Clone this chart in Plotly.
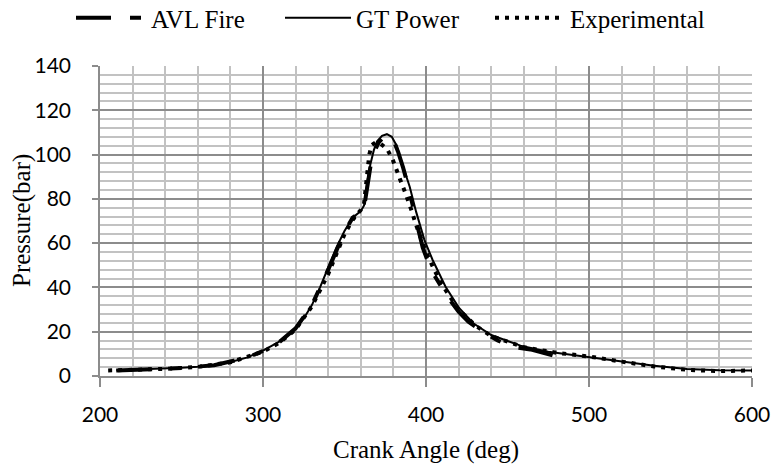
import plotly.graph_objects as go

# ---- data ----
avl_x = [210, 230, 250, 270, 290, 300, 310, 320, 330, 340, 345, 350, 355, 360, 362, 364, 366, 368, 371, 374, 377, 380, 383, 386, 390, 394, 398, 403, 408, 413, 420, 426, 434, 444, 454, 464, 472, 480]
avl_y = [2.5, 2.9, 3.6, 4.9, 8.2, 11.3, 15.3, 21.5, 32, 48, 57, 65, 71.5, 74, 76, 86, 95, 101, 105.5, 108, 108.5, 106.5, 101, 94, 83, 70, 58, 48, 42, 36, 29, 24.5, 20.5, 16, 13, 12, 10.5, 8.8]

gt_x = [210, 220, 230, 240, 250, 260, 270, 280, 290, 300, 310, 320, 325, 330, 335, 340, 345, 350, 355, 360, 362, 364, 366, 368, 370, 373, 376, 379, 382, 384, 387, 390, 394, 399, 404, 409, 412, 420, 429, 440, 458, 475, 490, 500, 520, 540, 560, 580, 600]
gt_y = [2.6, 2.8, 3.0, 3.3, 3.7, 4.2, 5.0, 6.3, 8.3, 11.5, 15.5, 21.5, 26, 32, 40, 49, 58, 65.5, 71.5, 74.5, 77, 88, 96, 102, 106, 108.5, 109.2, 108, 104, 99, 92, 85.5, 74, 61.5, 52.5, 45, 40.3, 31, 23.8, 18.5, 13.7, 11, 9.5, 8.5, 6.5, 4.6, 3.2, 2.6, 2.5]

exp_x = [205, 220, 240, 260, 280, 300, 310, 320, 330, 340, 345, 350, 355, 358, 360, 362, 363, 363.6, 364.2, 365.2, 366.7, 369, 372, 376.2, 379.5, 382, 384, 386.5, 388.5, 391, 394, 397, 400, 405, 410, 420, 430, 440, 460, 480, 500, 520, 540, 560, 580, 600]
exp_y = [2.5, 2.7, 3.2, 4.1, 6.2, 11, 15, 21, 31.5, 46, 55, 64, 70.5, 73, 75, 78, 85, 90, 95, 100, 104.3, 105.5, 105, 102.4, 97.9, 93.5, 89, 84.3, 80.3, 75, 68, 61.4, 56, 48, 41, 30, 23, 18, 13, 10.5, 8.8, 6.5, 4.3, 2.8, 2.2, 2.5]

x_ticks = [200, 300, 400, 500, 600]
y_ticks = [0, 20, 40, 60, 80, 100, 120, 140]

serif = "Liberation Serif"
sans = "Lato"

W, H = 771, 464
ML, MR, MT, MB = 100, 19, 66, 88
plot_w = W - ML - MR
plot_h = H - MT - MB

fig = go.Figure()
fig.add_trace(go.Scatter(x=avl_x, y=avl_y, mode="lines", name="AVL Fire", legend="legend",
                         line=dict(color="black", width=4, dash="35px,19px,11px,19px")))
fig.add_trace(go.Scatter(x=gt_x, y=gt_y, mode="lines", name="GT Power", legend="legend2",
                         line=dict(color="black", width=2)))
fig.add_trace(go.Scatter(x=exp_x, y=exp_y, mode="lines", name="Experimental", legend="legend3",
                         line=dict(color="black", width=4, dash="4px,6px")))


def leg(xpx, w):
    return dict(orientation="h", xref="container", yref="paper",
                x=xpx / W, xanchor="left", y=1 + (MT - 18) / plot_h, yanchor="middle",
                font=dict(family=serif, size=25, color="black"),
                itemwidth=w, bgcolor="rgba(0,0,0,0)")


fig.update_layout(
    width=W, height=H,
    margin=dict(l=ML, r=MR, t=MT, b=MB, autoexpand=False),
    paper_bgcolor="white", plot_bgcolor="white",
    showlegend=True,
    legend=leg(71, 70),
    legend2=leg(280, 66),
    legend3=leg(490, 70),
    xaxis=dict(range=[200, 600], tickvals=x_ticks, ticktext=[str(v) for v in x_ticks],
               showgrid=True, gridcolor="#8c8c8c", gridwidth=1.5,
               minor=dict(dtick=20, showgrid=True, gridcolor="#c2c2c2", gridwidth=1.5, ticks=""),
               showline=True, linecolor="#8c8c8c", linewidth=1.5,
               ticks="outside", ticklen=9, tickcolor="#8c8c8c", tickwidth=1.5,
               ticklabelstandoff=10,
               tickfont=dict(family=sans, size=21, color="black"),
               zeroline=False,
               title=dict(text="Crank Angle (deg)", standoff=18,
                          font=dict(family=serif, size=25, color="black"))),
    yaxis=dict(range=[0, 140], tickvals=y_ticks, ticktext=[str(v) for v in y_ticks],
               showgrid=True, gridcolor="#8c8c8c", gridwidth=1.5,
               minor=dict(dtick=4, showgrid=True, gridcolor="#c2c2c2", gridwidth=1.5, ticks=""),
               showline=True, linecolor="#8c8c8c", linewidth=1.5,
               ticks="outside", ticklen=6, tickcolor="#8c8c8c", tickwidth=1.5,
               ticklabelstandoff=17,
               tickfont=dict(family=sans, size=21, color="black"),
               zeroline=False),
    annotations=[dict(text="Pressure(bar)", textangle=-90, showarrow=False,
                      xref="paper", yref="paper", x=(22 - ML) / plot_w, y=0.5,
                      xanchor="center", yanchor="middle",
                      font=dict(family=serif, size=25, color="black"))],
)

# remove the default 8px page margin so the figure fills the window exactly
fig.write_html("out.html", config={"displayModeBar": False},
               post_script="document.body.style.margin='0';document.body.style.overflow='hidden';")
